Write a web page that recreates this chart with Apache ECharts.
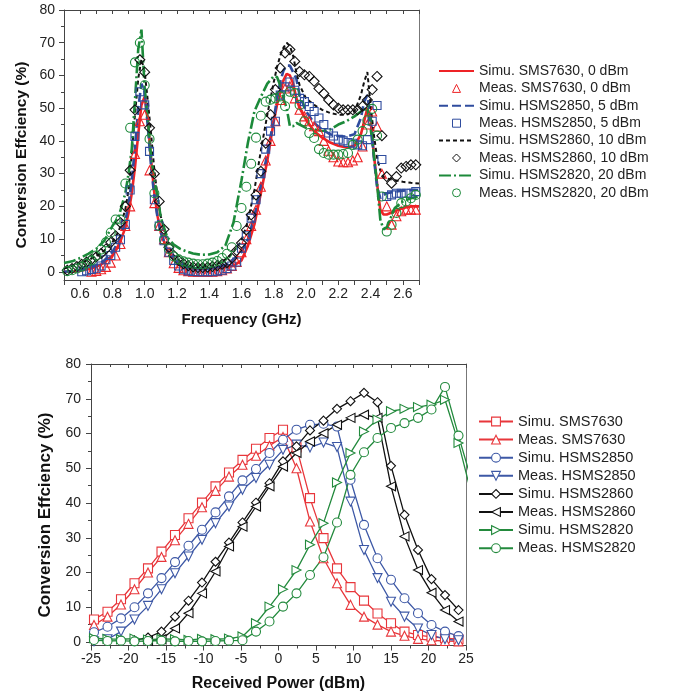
<!DOCTYPE html>
<html>
<head>
<meta charset="utf-8">
<script src="https://cdn.jsdelivr.net/npm/echarts@6/dist/echarts.min.js"></script>
<style>
 html, body { margin: 0; padding: 0; background: #fff; }
 #chart { width: 676px; height: 695px; }
</style>
</head>
<body>
<div id="chart"></div>
<script>
// ---- top plot: efficiency vs frequency ----
var simFreq = [0.50, 0.55, 0.60, 0.65, 0.70, 0.75, 0.80, 0.84, 0.88, 0.90,
 0.92, 0.94, 0.96, 0.98, 1.00, 1.02, 1.04, 1.06, 1.08, 1.10,
 1.14, 1.18, 1.22, 1.26, 1.30, 1.35, 1.40, 1.45, 1.50, 1.55,
 1.60, 1.64, 1.68, 1.72, 1.76, 1.80, 1.82, 1.84, 1.86, 1.88,
 1.90, 1.92, 1.94, 1.96, 2.00, 2.05, 2.10, 2.15, 2.20, 2.25,
 2.30, 2.34, 2.36, 2.38, 2.40, 2.42, 2.44, 2.46, 2.48, 2.50,
 2.55, 2.60, 2.65, 2.70];

var simSMS7630 = [0, 0, 0.3, 0.8, 1.5, 2.8, 5, 8, 13.5, 18,
 24, 32, 42, 51, 53.5, 46, 34, 24, 17, 12,
 6.5, 3.8, 2.3, 1.5, 1.1, 0.9, 1.0, 1.2, 1.5, 1.8,
 3.5, 8, 14.5, 24, 34, 46, 51, 55, 58.5, 60.5,
 60, 57.5, 53, 50, 46.5, 43, 41, 39.5, 38.5, 38,
 38.5, 42, 46, 50, 47, 36, 27, 19, 17.5, 17.5,
 18.5, 19.5, 20, 20];

var simHSMS2850 = [0, 0.2, 0.5, 1, 2, 3.5, 6, 9.5, 15.5, 20.5,
 28, 38, 50, 57.5, 55, 44, 32, 23, 16.5, 12,
 6.5, 3.8, 2.3, 1.5, 1.1, 0.9, 1.0, 1.4, 2.2, 3.8,
 6, 10, 17, 26.5, 36, 46.5, 53, 58, 61.5, 63,
 63, 61, 59, 54, 49, 45.5, 43.5, 42, 41.5, 41.3,
 42, 47, 52, 54, 47, 35, 26, 22.5, 23.5, 24,
 24.5, 24.8, 25, 25];

var simHSMS2860 = [1, 1.8, 2.8, 3.6, 4.8, 6.5, 9, 12.5, 19, 25,
 36, 48, 59, 65, 61, 52, 42, 31, 23, 17,
 8.5, 5, 3.2, 2.2, 1.6, 1.4, 1.6, 2.4, 3.8, 6,
 9.5, 15.5, 25, 37, 48, 58, 62.5, 66, 68.5, 70,
 69, 66, 61, 57, 53, 51, 49.5, 48.5, 48, 48,
 49, 54, 58, 61, 51, 42, 35, 31, 29, 28.5,
 28, 27.5, 27.2, 27];

var simHSMS2820 = [2.7, 3.2, 4.2, 5.5, 7, 9.5, 14, 17, 24, 30,
 37.5, 52.5, 68, 74, 56, 46, 35, 28, 23, 16.5,
 10.5, 8.3, 7, 6.2, 5.6, 5.2, 5.3, 6, 8, 15,
 28, 39.5, 49, 53.5, 57.5, 59.8, 59.5, 57, 53, 50,
 44.5, 44.5, 45.5, 45, 44, 43.5, 43, 43.5, 45, 46,
 47.5, 49, 49.5, 50, 44, 36, 27, 16, 13, 13.5,
 19.5, 21.5, 22.5, 23];

var measFreq = [0.52, 0.55, 0.58, 0.61, 0.64, 0.67, 0.70, 0.73, 0.76, 0.79,
 0.82, 0.85, 0.88, 0.91, 0.94, 0.97, 1.00, 1.03, 1.06, 1.09,
 1.12, 1.15, 1.18, 1.21, 1.24, 1.27, 1.30, 1.33, 1.36, 1.39,
 1.42, 1.45, 1.48, 1.51, 1.54, 1.57, 1.60, 1.63, 1.66, 1.69,
 1.72, 1.75, 1.78, 1.81, 1.84, 1.87, 1.90, 1.93, 1.96, 1.99,
 2.02, 2.05, 2.08, 2.11, 2.14, 2.17, 2.20, 2.23, 2.26, 2.29,
 2.32, 2.35, 2.38, 2.41, 2.44, 2.47, 2.50, 2.53, 2.56, 2.59,
 2.62, 2.65, 2.68];

var measSMS7630 = [null, null, null, null, null, 0, 0.3, 0.8, 1.5, 2.8,
 5, 8.5, 14, 20, 36, 46, 48, 31, 21, 14,
 10, 6, 2.6, 1.2, 0.5, 0.2, 0, 0, 0, 0,
 0, 0.2, 0.5, 1, 1.8, 3, 6, 10, 14, 19,
 26, 34, 40, 46, 52.5, 56, 56.7, 53, 49.5, 47.5,
 46, 44.5, 43, 40, 37, 35, 33.7, 33.5, 33.5, 34,
 35, 38.3, 45, 49, 44.4, 30, 20, 14.4, 17, 18.5,
 19, 19, 19];

var measHSMS2850 = [null, null, null, 0, 0.3, 0.7, 1.1, 1.8, 3.7, 5,
 7.5, 9.8, 14.5, 25, 41.4, 55, 51, 36.8, 22, 14,
 9.5, 6, 3.5, 1.8, 0.8, 0.3, 0.1, 0, 0, 0,
 0, 0.2, 0.5, 1, 1.8, 3, 7.2, 11, 16.4, 22,
 30, 37.5, 43, 46, 54, 56.5, 58, 55.5, 53, 52,
 50.5, 49, 47, 45, 42.4, 41.5, 40.5, 40, 39.5, 39.3,
 38.8, 38.5, 40.4, 46, 50.8, 34.3, 23, 23.5, 24, 24,
 24, 24, 24.5];

var measHSMS2860 = [0.5, 1, 1.6, 2.3, 3, 3.8, 4.6, 5.6, 7, 9,
 11, 15, 20, 31, 49.5, 64.8, 61, 44, 30, 21.5,
 13, 7.5, 5, 3.5, 2.5, 1.9, 1.5, 1.3, 1.3, 1.4,
 1.6, 1.9, 2.3, 2.8, 4.2, 6.5, 8.8, 12.8, 17.4, 23.5,
 30.7, 39.3, 48, 55.7, 62.3, 66.9, 67.9, 64.3, 61.2, 60.2,
 59.7, 58.2, 56, 54.5, 52.5, 51, 50, 49.5, 49.5, 49.5,
 49.5, 50.6, 52.5, 55.7, 59.7, 41.6, 29.1, 27.1, 29.1, 31.7,
 32.2, 32.7, 32.7];

var measHSMS2820 = [0.2, 0.5, 1, 1.6, 2.5, 3.5, 5, 6.8, 9, 12,
 16, 16, 27, 44, 64, 70, 57, 40.6, 24, 14,
 9.8, 7, 4.7, 3.8, 3.2, 2.8, 2.5, 2.3, 2.3, 2.5,
 2.8, 3.3, 4.2, 5.5, 7.5, 14, 19.5, 26, 33, 41,
 47.7, 52, 52.6, 53, 53.6, 50.6, 55, 54.6, 51, 46,
 42.4, 40.9, 37.5, 36.3, 35.8, 35.8, 35.8, 36, 36.3, 38.8,
 40.4, 43, 46.3, 49.8, 41.6, 23, 12.3, 14.4, 18, 21,
 21.5, 22.5, 23.5];

// ---- bottom plot: efficiency vs received power ----
var powers = [-24.6, -22.8, -21, -19.2, -17.4, -15.6, -13.8, -12, -10.2, -8.4,
 -6.6, -4.8, -3, -1.2, 0.6, 2.4, 4.2, 6, 7.8, 9.6,
 11.4, 13.2, 15, 16.8, 18.6, 20.4, 22.2, 24, 25.8];

var pSimSMS7630 = [6.5, 8.7, 12.3, 16.9, 21.2, 26, 30.8, 35.6, 40.1, 44.8,
 48.8, 52.4, 55.6, 58.7, 61.1, 56, 41.4, 29.9, 21.2, 15.8,
 11.9, 8.2, 5.4, 3, 2, 1.5, 1.1, 0.8, null];
var pMeasSMS7630 = [4.9, 7.3, 10.8, 15.2, 20, 24.5, 29.3, 34, 38.8, 43.5,
 47.6, 51, 53.6, 56.5, 59, 50, 34.7, 24.1, 16.9, 10.7,
 7.3, 5, 3, 1.8, 0.9, 0.5, 0.3, 0.2, null];
var pSimHSMS2850 = [2.8, 4.4, 6.8, 10, 14, 18.4, 23, 27.7, 32.3, 37.3,
 41.9, 46.5, 49.8, 54.4, 58.2, 61.1, 62.5, 62.8, 62, 46.7,
 33.7, 24.1, 17.9, 12.6, 8.3, 4.9, 3, 1.7, null];
var pMeasHSMS2850 = [0.2, 0.8, 3, 6.5, 10.4, 15.2, 19.8, 24.6, 29.4, 34.2,
 39, 43.8, 47.2, 51, 55.3, 56.8, 56, 57.4, 56.1, 40.4,
 26.5, 18.4, 11.6, 7.3, 3.9, 2, 0.8, 0.5, null];
var pSimHSMS2860 = [null, null, null, 0.5, 1.3, 3, 7.3, 11.9, 17.1, 23.1,
 28.6, 34.4, 40.1, 45.7, 52, 56.3, 60.9, 63.7, 67.1, 69.3,
 71.7, 69, 50.7, 36.6, 26.5, 18.1, 13.5, 9.2, null];
var pMeasHSMS2860 = [null, null, null, null, 0.3, 0.8, 3.9, 8.3, 14, 20.3,
 27.5, 33.2, 39, 44.8, 50.5, 54.4, 57.7, 60.1, 62.5, 64.5,
 65.4, 64.5, 44.8, 30.4, 20.7, 14.2, 9.2, 5.9, null];
var pSimHSMS2820 = [1.1, 0.9, 0.8, 1.0, 0.7, 0.9, 0.8, 0.6, 0.9, 0.8,
 1.0, 1.6, 5.4, 10.2, 15.2, 20.7, 28, 34.2, 45.9, 54.4,
 60.6, 64, 66.4, 67.1, 67.6, 68.3, 69.7, 57.3, 42];
var pMeasHSMS2820 = [0.6, 0.3, 0.4, 0.2, 0.3, 0.4, 0.2, 0.3, 0.2, 0.3,
 0.4, 0.5, 3, 5.9, 10.2, 14, 19.3, 24.4, 34.4, 48.1,
 54.6, 58.7, 61.6, 63, 64.5, 66.9, 73.4, 59.4, 46];

var yLabels = [0, 10, 20, 30, 40, 50, 60, 70, 80];
var yMinor = [5, 15, 25, 35, 45, 55, 65, 75];

var FONT = 'Liberation Sans, Arial, Helvetica, sans-serif';
var AX = '#444';
var RED = '#ee2326', BLUE = '#2f4c9e', BLACK = '#111111', GREEN = '#1c8a3a';
var RED2 = '#e8363b', BLUE2 = '#3d58a6', GREEN2 = '#238a3d';

function pairs(xs, ys) {
 return xs.map(function(x, i) { return [x, ys[i]]; });
}

function simLine(name, xs, ys, color, type, width) {
 return {
  name: name, type: 'line', xAxisIndex: 0, yAxisIndex: 0,
  data: pairs(xs, ys), symbol: 'circle', showSymbol: false, smooth: false,
  lineStyle: { color: color, width: width, type: type },
  itemStyle: { color: color }, z: 2
 };
}

function measDots(name, ys, color, symbol, size) {
 return {
  name: name, type: 'line', xAxisIndex: 0, yAxisIndex: 0,
  data: pairs(measFreq, ys), symbol: symbol, symbolSize: size, showSymbol: true,
  lineStyle: { opacity: 0 },
  itemStyle: { color: 'rgba(255,255,255,0)', borderColor: color, borderWidth: 1.1 },
  z: 3
 };
}

function powerLine(name, ys, color, symbol, rotate) {
 return {
  name: name, type: 'line', xAxisIndex: 2, yAxisIndex: 3,
  data: pairs(powers, ys), symbol: symbol, symbolSize: 9, symbolRotate: rotate || 0,
  showSymbol: true, clip: true,
  lineStyle: { color: color, width: 1.3 },
  itemStyle: { color: '#fff', borderColor: color, borderWidth: 1.1 }
 };
}

var topNames = ['Simu. SMS7630, 0 dBm', 'Meas. SMS7630, 0 dBm', 'Simu. HSMS2850, 5 dBm', 'Meas. HSMS2850, 5 dBm',
 'Simu. HSMS2860, 10 dBm', 'Meas. HSMS2860, 10 dBm', 'Simu. HSMS2820, 20 dBm', 'Meas. HSMS2820, 20 dBm'];
var botNames = ['Simu. SMS7630', 'Meas. SMS7630', 'Simu. HSMS2850', 'Meas. HSMS2850',
 'Simu. HSMS2860', 'Meas. HSMS2860', 'Simu. HSMS2820', 'Meas. HSMS2820'];

var labelStyle = { color: '#222', fontSize: 14, fontFamily: FONT };
var nameStyle = { color: '#111', fontSize: 15, fontWeight: 'bold', fontFamily: FONT };

var option = {
 animation: false,
 backgroundColor: '#fff',
 grid: [
  { left: 64, top: 10, width: 355, height: 270 },
  { left: 91, top: 364, width: 375, height: 281.5 }
 ],
 graphic: [
  {
   type: 'text', x: 22, y: 155, rotation: Math.PI / 2,
   style: { text: 'Conversion Effciency (%)', fill: '#111', font: 'bold 15.5px ' + FONT,
    textAlign: 'center', textVerticalAlign: 'middle' }
  },
  {
   type: 'text', x: 45, y: 515, rotation: Math.PI / 2,
   style: { text: 'Conversion Effciency (%)', fill: '#111', font: 'bold 17px ' + FONT,
    textAlign: 'center', textVerticalAlign: 'middle' }
  }
 ],
 legend: [
  {
   orient: 'vertical', left: 438, top: 64, padding: 0, itemWidth: 35, itemHeight: 10, itemGap: 3.4,
   selectedMode: false,
   textStyle: { color: '#222', fontSize: 14, fontFamily: FONT, lineHeight: 14 },
   data: topNames.map(function(n, i) {
    return i % 2 === 0 ? { name: n, itemStyle: { opacity: 0 } }
     : { name: n, itemStyle: { borderWidth: 1, color: 'rgba(255,255,255,0)' } };
   })
  },
  {
   orient: 'vertical', left: 478, top: 414, padding: 0, itemWidth: 34, itemHeight: 11, itemGap: 3.1,
   selectedMode: false,
   textStyle: { color: '#222', fontSize: 14.5, fontFamily: FONT, lineHeight: 14 },
   data: botNames.map(function(n) { return { name: n, itemStyle: { borderWidth: 1.1 } }; })
  }
 ],
 xAxis: [
  {
   gridIndex: 0, type: 'value', min: 0.5, max: 2.7, interval: 0.1, position: 'bottom',
   axisLine: { onZero: false, lineStyle: { color: AX, width: 1 } },
   axisTick: { length: 5, lineStyle: { color: AX } },
   axisLabel: Object.assign({ margin: 7, showMinLabel: true, showMaxLabel: true,
    formatter: function(v) { var k = Math.round(v * 10); return k % 2 === 0 ? (k / 10).toFixed(1) : ''; } }, labelStyle),
   splitLine: { show: false },
   name: 'Frequency (GHz)', nameLocation: 'middle', nameGap: 32, nameTextStyle: nameStyle
  },
  {
   gridIndex: 0, type: 'value', min: 0.5, max: 2.7, interval: 0.1, position: 'top',
   axisLine: { onZero: false, lineStyle: { color: AX, width: 1 } },
   axisTick: { inside: true, length: 4, lineStyle: { color: AX } },
   axisLabel: { show: false }, splitLine: { show: false }
  },
  {
   gridIndex: 1, type: 'value', min: -25, max: 25, interval: 5, position: 'bottom',
   axisLine: { onZero: false, lineStyle: { color: AX, width: 1 } },
   axisTick: { length: 5, lineStyle: { color: AX } },
   minorTick: { show: true, splitNumber: 2, length: 3, lineStyle: { color: AX } },
   axisLabel: Object.assign({ margin: 7 }, labelStyle),
   splitLine: { show: false },
   name: 'Received Power (dBm)', nameLocation: 'middle', nameGap: 30,
   nameTextStyle: Object.assign({}, nameStyle, { fontSize: 16 })
  },
  {
   gridIndex: 1, type: 'value', min: -25, max: 25, interval: 5, position: 'top',
   axisLine: { onZero: false, lineStyle: { color: AX, width: 1 } },
   axisTick: { inside: true, length: 4, lineStyle: { color: AX } },
   minorTick: { show: true, splitNumber: 2, length: 3, lineStyle: { color: AX } },
   axisLabel: { show: false }, splitLine: { show: false }
  }
 ],
 yAxis: [
  {
   gridIndex: 0, type: 'value', min: -2.5, max: 80, position: 'left',
   axisLine: { onZero: false, lineStyle: { color: AX, width: 1 } },
   axisTick: { length: 5, customValues: yLabels, lineStyle: { color: AX } },
   axisLabel: Object.assign({ margin: 9, customValues: yLabels }, labelStyle),
   splitLine: { show: false }
  },
  {
   gridIndex: 0, type: 'value', min: -2.5, max: 80, position: 'left',
   axisLine: { show: false, onZero: false },
   axisTick: { length: 3, customValues: yMinor, lineStyle: { color: AX } },
   axisLabel: { show: false }, splitLine: { show: false }
  },
  {
   gridIndex: 0, type: 'value', min: -2.5, max: 80, position: 'right',
   axisLine: { onZero: false, lineStyle: { color: '#777', width: 1 } },
   axisTick: { show: false }, axisLabel: { show: false }, splitLine: { show: false }
  },
  {
   gridIndex: 1, type: 'value', min: -1, max: 80, position: 'left',
   axisLine: { onZero: false, lineStyle: { color: AX, width: 1 } },
   axisTick: { length: 5, customValues: yLabels, lineStyle: { color: AX } },
   axisLabel: Object.assign({ margin: 10, customValues: yLabels }, labelStyle),
   splitLine: { show: false }
  },
  {
   gridIndex: 1, type: 'value', min: -1, max: 80, position: 'left',
   axisLine: { show: false, onZero: false },
   axisTick: { length: 3, customValues: yMinor, lineStyle: { color: AX } },
   axisLabel: { show: false }, splitLine: { show: false }
  },
  {
   gridIndex: 1, type: 'value', min: -1, max: 80, position: 'right',
   axisLine: { onZero: false, lineStyle: { color: '#777', width: 1 } },
   axisTick: { show: false }, axisLabel: { show: false }, splitLine: { show: false }
  }
 ],
 series: [
  simLine(topNames[0], simFreq, simSMS7630, RED, 'solid', 2.6),
  simLine(topNames[2], simFreq, simHSMS2850, BLUE, [9, 4], 2.6),
  simLine(topNames[4], simFreq, simHSMS2860, BLACK, [4, 3], 2),
  simLine(topNames[6], simFreq, simHSMS2820, GREEN, [12, 3, 2, 3], 2.6),
  measDots(topNames[1], measSMS7630, RED, 'triangle', 9),
  measDots(topNames[3], measHSMS2850, BLUE, 'rect', 8),
  measDots(topNames[5], measHSMS2860, BLACK, 'diamond', 10),
  measDots(topNames[7], measHSMS2820, GREEN, 'circle', 9),

  powerLine(botNames[0], pSimSMS7630, RED2, 'rect'),
  powerLine(botNames[1], pMeasSMS7630, RED2, 'triangle'),
  powerLine(botNames[2], pSimHSMS2850, BLUE2, 'circle'),
  powerLine(botNames[3], pMeasHSMS2850, BLUE2, 'triangle', 180),
  powerLine(botNames[4], pSimHSMS2860, BLACK, 'diamond'),
  powerLine(botNames[5], pMeasHSMS2860, BLACK, 'triangle', 90),
  powerLine(botNames[6], pSimHSMS2820, GREEN2, 'triangle', -90),
  powerLine(botNames[7], pMeasHSMS2820, GREEN2, 'circle')
 ]
};

var myChart = echarts.init(document.getElementById('chart'), null, { renderer: 'canvas' });
myChart.setOption(option);
</script>
</body>
</html>
